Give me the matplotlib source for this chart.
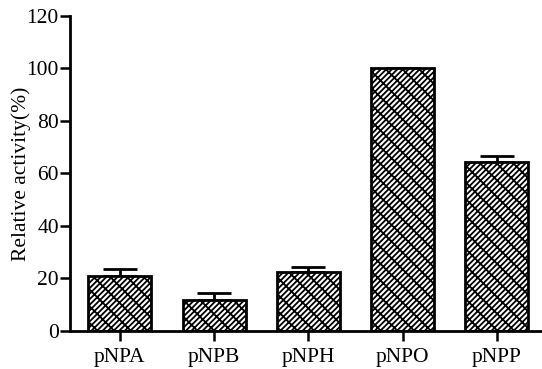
import matplotlib.pyplot as plt

plt.rcParams['font.family'] = ['Liberation Serif', 'DejaVu Serif']
plt.rcParams['hatch.linewidth'] = 1.3

substrates = ['pNPA', 'pNPB', 'pNPH', 'pNPO', 'pNPP']
activity = [21.0, 11.8, 22.3, 100.0, 64.3]
err = [2.5, 2.8, 2.1, 0.0, 2.4]

fig = plt.figure(figsize=(5.42, 3.69), dpi=100)
ax = fig.add_axes([0.129, 0.103, 0.871, 0.854])

x = range(len(substrates))
ax.bar(x, activity, width=0.67, color='white', edgecolor='black',
       linewidth=2, hatch='//////\\\\', zorder=2)
ax.errorbar(x, activity, yerr=[[0] * len(err), err], fmt='none',
            ecolor='black', elinewidth=2, capsize=12, capthick=2, zorder=1)

ax.set_xlim(-0.53, 4.48)
ax.set_ylim(0, 120)
ax.set_yticks(range(0, 121, 20))
ax.set_xticks(list(x))
ax.set_xticklabels(substrates)
ax.set_ylabel('Relative activity(%)', fontsize=15.5)
ax.yaxis.set_label_coords(-0.083, 0.5)

for s in ['top', 'right']:
    ax.spines[s].set_visible(False)
for s in ['left', 'bottom']:
    ax.spines[s].set_linewidth(2)
ax.tick_params(axis='both', labelsize=15.5, width=1.8, length=7, direction='out')
ax.tick_params(axis='x', pad=5)
ax.tick_params(axis='y', pad=1)

fig.savefig('out.png', dpi=100)
